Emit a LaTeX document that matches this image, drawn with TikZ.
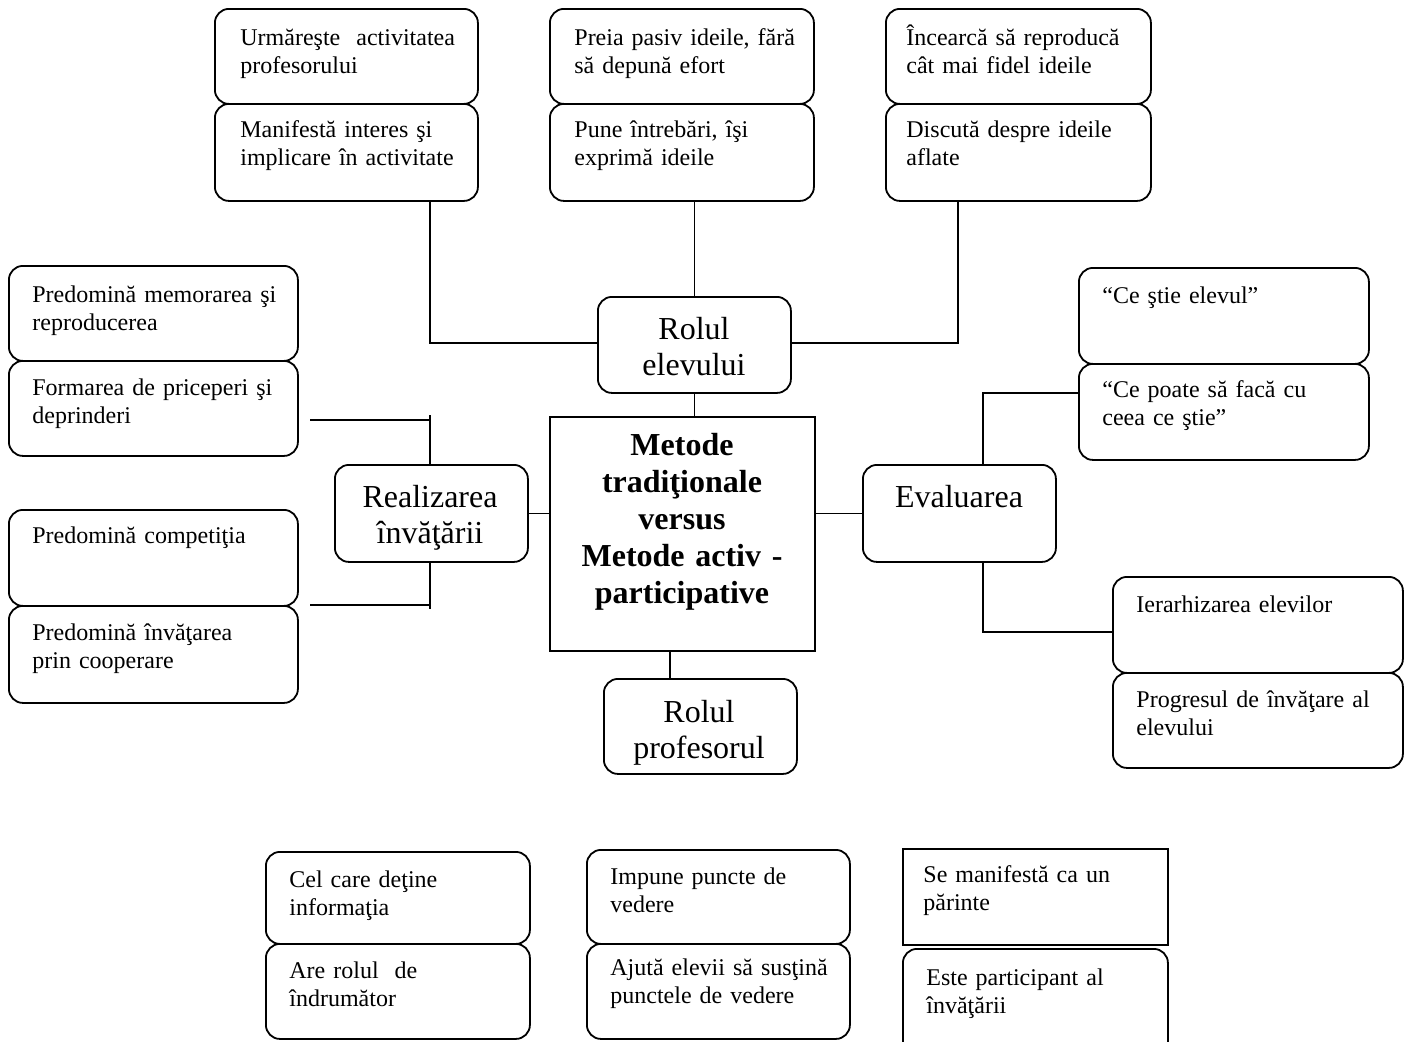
\documentclass[tikz,border=0pt]{standalone}
\usepackage{fontspec}
\setmainfont{Liberation Serif}
\usetikzlibrary{calc}
\tikzset{
  rbox/.style 2 args={draw, line width=0.9pt, rounded corners=7pt, anchor=north west,
    inner sep=0pt, minimum width=#1*0.5pt, minimum height=#2*0.5pt},
  sbox/.style 2 args={draw, line width=0.9pt, anchor=north west,
    inner sep=0pt, minimum width=#1*0.5pt, minimum height=#2*0.5pt},
  txt/.style={font=\fontsize{12}{14}\selectfont, text width=140pt, align=left,
    inner sep=0pt, anchor=base west},
  big/.style={font=\fontsize{16}{18.4}\selectfont, text width=120pt, align=center,
    inner sep=0pt, anchor=base},
  bigb/.style={font=\bfseries\fontsize{16}{18.6}\selectfont, text width=130pt, align=center,
    inner sep=0pt, anchor=base},
  conn/.style={draw, line width=0.9pt}
}
\begin{document}
\begin{tikzpicture}[x=0.5pt, y=-0.5pt]
\useasboundingbox (0,0) rectangle (1407,1041);
\begin{scope}
\clip (0,0) rectangle (1407,1041);
% top row
\node[rbox={263}{95}] (A1) at (214,8) {};
\node[rbox={263}{97}] (A2) at (214,103) {};
\node[rbox={264}{95}] (B1) at (549,8) {};
\node[rbox={264}{97}] (B2) at (549,103) {};
\node[rbox={265}{95}] (C1) at (885,8) {};
\node[rbox={265}{97}] (C2) at (885,103) {};
\node[txt] (A1t) at (240,45) {Urmăreşte\ \ activitatea\\profesorului};
\node[txt] (A2t) at (240,137) {Manifestă interes şi\\implicare în activitate};
\node[txt] (B1t) at (574,45) {Preia pasiv ideile, fără\\să depună efort};
\node[txt] (B2t) at (574,137) {Pune întrebări, îşi\\exprimă ideile};
\node[txt] (C1t) at (906,45) {Încearcă să reproducă\\cât mai fidel ideile};
\node[txt] (C2t) at (906,137) {Discută despre ideile\\aflate};
% central
\node[rbox={193}{96}] (el) at (597,296) {};
\node[big] (elt) at (694,339) {Rolul\\elevului};
\node[sbox={265}{234}] (ctr) at (549,416) {};
\node[bigb] (ctrt) at (682,455) {Metode\\tradiţionale\\versus\\Metode activ -\\participative};
\node[rbox={193}{95}] (prof) at (603,678) {};
\node[big] (proft) at (699,722) {Rolul\\profesorul};
\node[rbox={193}{97}] (real) at (334,464) {};
\node[big] (realt) at (430,507) {Realizarea\\învăţării};
\node[rbox={193}{97}] (eval) at (862,464) {};
\node[big] (evalt) at (959,507) {Evaluarea};
% left
\node[rbox={289}{95}] (L1) at (8,265) {};
\node[rbox={289}{95}] (L2) at (8,360) {};
\node[rbox={289}{96}] (L3) at (8,509) {};
\node[rbox={289}{97}] (L4) at (8,605) {};
\node[txt] (L1t) at (32,302) {Predomină memorarea şi\\reproducerea};
\node[txt] (L2t) at (32,395) {Formarea de priceperi şi\\deprinderi};
\node[txt] (L3t) at (32,543) {Predomină competiţia};
\node[txt] (L4t) at (32,640) {Predomină învăţarea\\prin cooperare};
% right
\node[rbox={290}{96}] (R1) at (1078,267) {};
\node[rbox={290}{96}] (R2) at (1078,363) {};
\node[rbox={290}{96}] (R3) at (1112,576) {};
\node[rbox={290}{95}] (R4) at (1112,672) {};
\node[txt] (R1t) at (1102,303) {“Ce ştie elevul”};
\node[txt] (R2t) at (1102,397) {“Ce poate să facă cu\\ceea ce ştie”};
\node[txt] (R3t) at (1136,612) {Ierarhizarea elevilor};
\node[txt] (R4t) at (1136,707) {Progresul de învăţare al\\elevului};
% bottom
\node[rbox={264}{92}] (P1) at (265,851) {};
\node[rbox={264}{95}] (P2) at (265,943) {};
\node[rbox={263}{94}] (P3) at (586,849) {};
\node[rbox={263}{95}] (P4) at (586,943) {};
\node[sbox={265}{96}, line width=1.2pt] (P5) at (902,848) {};
\node[rbox={265}{115}] (P6) at (902,948) {};
\node[txt] (P1t) at (289,887) {Cel care deţine\\informaţia};
\node[txt] (P2t) at (289,978) {Are rolul\ \ de\\îndrumător};
\node[txt] (P3t) at (610,884) {Impune puncte de\\vedere};
\node[txt] (P4t) at (610,975) {Ajută elevii să susţină\\punctele de vedere};
\node[txt] (P5t) at (923,882) {Se manifestă ca un\\părinte};
\node[txt] (P6t) at (926,985) {Este participant al\\învăţării};
% connectors
\coordinate (ka) at (430,343);
\coordinate (kc) at (958,343);
\draw[conn] (ka |- A2.south) -- (ka) -- (ka -| el.west);
\draw[conn] (kc |- C2.south) -- (kc) -- (kc -| el.east);
\draw[conn] (el.north) -- (el.north |- B2.south);
\draw[conn] (el.south) -- (el.south |- ctr.north);
\coordinate (kp) at (670,660);
\draw[conn] (kp |- ctr.south) -- (kp |- prof.north);
\draw[conn] (real.east) -- (real.east -| ctr.west);
\draw[conn] (ctr.east |- eval.west) -- (eval.west);
\coordinate (kl1) at (430,420);
\coordinate (kl1s) at (310,420);
\coordinate (kl1t) at (430,415);
\draw[conn] (kl1s) -- (kl1);
\draw[conn] (kl1t) -- (kl1t |- real.north);
\coordinate (kl2) at (430,605);
\coordinate (kl2s) at (310,605);
\coordinate (kl2b) at (430,609);
\draw[conn] (kl2s) -- (kl2);
\draw[conn] (kl2b |- real.south) -- (kl2b);
\coordinate (ke1) at (983,393);
\coordinate (ke2) at (983,632);
\draw[conn] (ke1 |- eval.north) -- (ke1) -- (ke1 -| R2.west);
\draw[conn] (ke2 |- eval.south) -- (ke2) -- (ke2 -| R3.west);
\end{scope}
\end{tikzpicture}
\end{document}
